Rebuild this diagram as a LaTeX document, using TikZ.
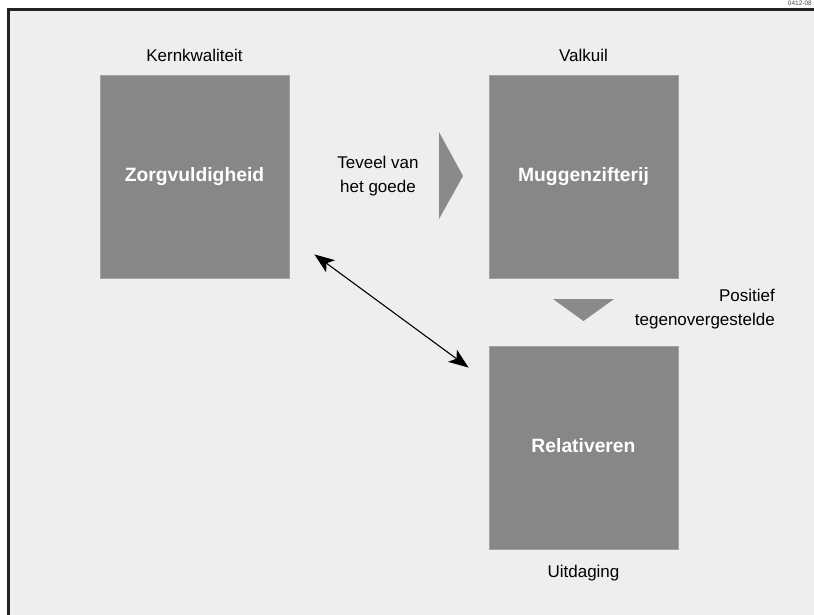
\documentclass[tikz,border=0pt]{standalone}
\usepackage{fontspec}
\setmainfont{Liberation Sans}
\usetikzlibrary{arrows.meta,calc}
\definecolor{bgpanel}{HTML}{EEEEEE}
\definecolor{boxfill}{HTML}{878787}
\definecolor{boxline}{HTML}{A2A2A2}
\definecolor{framecol}{HTML}{222222}
\definecolor{tricol}{HTML}{8A8A8A}
\tikzset{
  qbox/.style={rectangle, fill=boxfill, draw=boxline, line width=0.8pt,
    minimum width=189pt, minimum height=203pt, inner sep=0pt,
    text=white, font=\fontsize{19.3}{22}\selectfont\bfseries,
    text height=14pt, text depth=4pt},
  qlabel/.style={font=\fontsize{17}{24}\selectfont, text=black, inner sep=0pt},
  tri/.style={fill=tricol, draw=none},
  dblarrow/.style={line width=1.1pt, {Stealth[length=20pt,width=15pt,inset=5pt]}-{Stealth[length=20pt,width=15pt,inset=5pt]}}
}
\begin{document}
\begin{tikzpicture}[x=1pt,y=-1pt]
\useasboundingbox (0,0) rectangle (814,615);
\fill[white] (0,0) rectangle (814,615);
\draw[framecol, fill=bgpanel, line width=3pt] (8,9.5) rectangle (840,640);
\node[anchor=north east, font=\fontsize{6.5}{7}\selectfont, text=black!70, inner sep=0pt] (code) at (812,0.5) {0412-08};

\node[qbox] (zorg) at (194.5,176.5) {Zorgvuldigheid};
\node[qbox] (mug) at (583.5,176.5) {Muggenzifterij};
\node[qbox] (rel) at (583.5,447.5) {Relativeren};

\node[qlabel] (kern) at (194.5,55) {Kernkwaliteit};
\node[qlabel] (valk) at (583.5,55) {Valkuil};
\node[qlabel] (uitd) at (583.5,573) {Uitdaging};
\node[qlabel, align=center] (teveel) at (378,176) {Teveel van\\het goede};
\node[qlabel, align=right, anchor=east] (posit) at (775,309.5) {Positief\\tegenovergestelde};

\fill[tri] (439,132) -- (439,219) -- (463,176) -- cycle;
\fill[tri] (553,299) -- (614,299) -- (583.5,321) -- cycle;

\coordinate (a1) at ($(zorg.south east)+(25,-24)$);
\coordinate (a2) at ($(rel.north west)+(-20,22)$);
\draw[dblarrow] (a1) -- (a2);
\end{tikzpicture}
\end{document}
